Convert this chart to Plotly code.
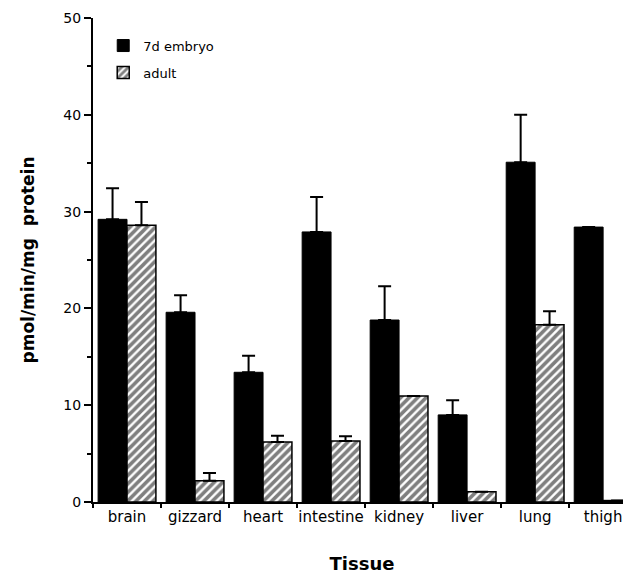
import plotly.graph_objects as go

tissues = ["brain", "gizzard", "heart", "intestine", "kidney", "liver", "lung", "thigh"]
embryo = [29.2, 19.6, 13.4, 27.9, 18.8, 9.0, 35.1, 28.4]
embryo_err = [3.2, 1.75, 1.7, 3.6, 3.5, 1.5, 4.9, None]
adult = [28.6, 2.2, 6.2, 6.3, 10.95, 1.06, 18.3, 0.15]
adult_err = [2.4, 0.8, 0.65, 0.5, None, None, 1.4, None]

FONT = "DejaVu Sans, Verdana, sans-serif"

fig = go.Figure()
fig.add_trace(go.Bar(
    x=tissues, y=embryo, name="7d embryo", legendgroup="a",
    marker=dict(color="black", line=dict(color="black", width=1)),
    error_y=dict(type="data", symmetric=False, array=embryo_err,
                 arrayminus=[0] * len(tissues), color="black", thickness=2, width=6.5),
))
fig.add_trace(go.Bar(
    x=tissues, y=adult, name="adult", legendgroup="b",
    marker=dict(color="white", line=dict(color="black", width=1.5),
                pattern=dict(shape="/", fgcolor="black", bgcolor="white", size=6, solidity=0.6)),
    error_y=dict(type="data", symmetric=False, array=adult_err,
                 arrayminus=[0] * len(tissues), color="black", thickness=2, width=6.5),
))

fig.update_layout(
    width=623, height=566,
    margin=dict(l=85, r=0, t=10, b=72),
    paper_bgcolor="white", plot_bgcolor="white",
    barmode="group", bargap=0.15, bargroupgap=0,
    font=dict(family=FONT, size=13, color="black"),
    showlegend=True,
    legend=dict(x=0.019, y=0.974, xanchor="left", yanchor="top",
                bgcolor="rgba(0,0,0,0)", font=dict(size=13, family=FONT),
                tracegroupgap=7, traceorder="grouped"),
    xaxis=dict(
        range=[-0.5, 7.41], showline=True, linecolor="black", linewidth=2,
        ticks="outside", tickson="boundaries", ticklen=4, tickwidth=2, tickcolor="black",
        showgrid=False, tickfont=dict(size=15, family=FONT), tickangle=0, automargin=False,
        title=dict(text="<b>Tissue</b>", font=dict(size=18, family=FONT), standoff=34),
    ),
    yaxis=dict(
        range=[0, 50], showline=True, linecolor="black", linewidth=2,
        tickvals=[0, 10, 20, 30, 40, 50], ticks="outside", ticklen=7, tickwidth=2,
        tickcolor="black", showgrid=False, zeroline=False, automargin=False,
        minor=dict(tickvals=[5, 15, 25, 35, 45], ticks="outside", ticklen=4, tickwidth=2, tickcolor="black"),
        tickfont=dict(size=14, family=FONT),
        title=dict(text="<b>pmol/min/mg  protein</b>", font=dict(size=17, family=FONT), standoff=24),
    ),
)

fig.write_html("out.html")
